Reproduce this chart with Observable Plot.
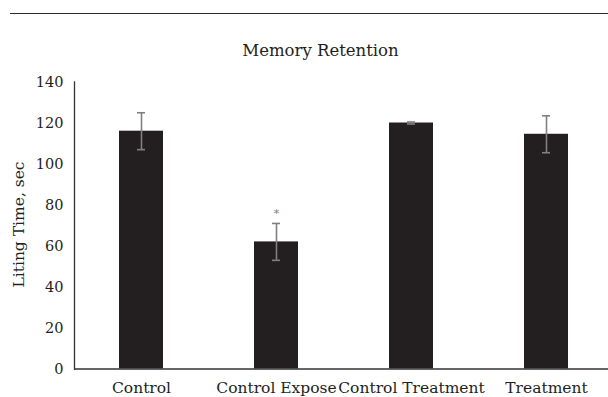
<!DOCTYPE html>
<html><head><meta charset="utf-8">
<script src="https://cdn.jsdelivr.net/npm/d3@7"></script>
<script src="https://cdn.jsdelivr.net/npm/@observablehq/plot@0.6"></script>
<style>
body{margin:0;background:#fff;}
#wrap{position:relative;width:608px;height:397px;overflow:hidden;background:#fff;}
#topline{position:absolute;left:10px;top:12.5px;width:598px;height:1.3px;background:#2b2b2b;}
</style></head><body><div id="wrap"><div id="topline"></div></div>
<script>
const categories = ["Control", "Control Expose", "Control Treatment", "Treatment"];
const means = [116, 62, 120, 114.5];
const errors = [9, 9, 0.5, 9];
const marks = ["", "*", "", ""];
const yTicks = [0, 20, 40, 60, 80, 100, 120, 140];
const title = "Memory Retention";
const yLabel = "Liting Time, sec";

const data = categories.map((c, i) => ({
  cat: c, mean: means[i], lo: means[i] - errors[i], hi: means[i] + errors[i], mark: marks[i]
}));
const font = "DejaVu Serif";
const ink = "#231f20";
const errColor = "#808080";

const chart = Plot.plot({
  width: 608, height: 397,
  marginLeft: 74, marginRight: 0, marginTop: 81.5, marginBottom: 28.5,
  style: {fontFamily: font, background: "transparent", color: ink},
  x: {domain: categories, range: [74, 614], paddingInner: 0.674, paddingOuter: 0.337, label: null},
  y: {domain: [0, 140], label: null},
  marks: [
    Plot.barY(data, {x: "cat", y: "mean", fill: ink}),
    Plot.ruleX(data, {x: "cat", y1: "lo", y2: "hi", stroke: errColor, strokeWidth: 1.6}),
    Plot.tickY(data, {x: "cat", y: "lo", stroke: errColor, strokeWidth: 1.6, insetLeft: 18, insetRight: 18}),
    Plot.tickY(data, {x: "cat", y: "hi", stroke: errColor, strokeWidth: 1.6, insetLeft: 18, insetRight: 18}),
    Plot.text(data, {x: "cat", y: "hi", text: "mark", dy: -10, fontSize: 11, fill: errColor}),
    Plot.ruleY([0], {stroke: "#333", strokeWidth: 1.3}),
    Plot.frame({anchor: "left", stroke: "#333", strokeWidth: 1.3}),
    Plot.axisY({ticks: yTicks, tickSize: 0, tickPadding: 11, fontSize: 14.5, fill: ink, label: null}),
    Plot.axisX({tickSize: 0, tickPadding: 13, fontSize: 15.5, fill: ink, label: null}),
    Plot.text([title], {frameAnchor: "top", dx: -21, dy: -31.5, lineAnchor: "middle", fontSize: 16.5, fill: ink}),
    Plot.text([yLabel], {frameAnchor: "left", rotate: -90, dx: -55, dy: -1, lineAnchor: "middle", textAnchor: "middle", fontSize: 15.5, fill: ink})
  ]
});
chart.style.position = "absolute";
chart.style.left = "0";
chart.style.top = "0";
document.getElementById("wrap").appendChild(chart);
</script>
</body></html>
